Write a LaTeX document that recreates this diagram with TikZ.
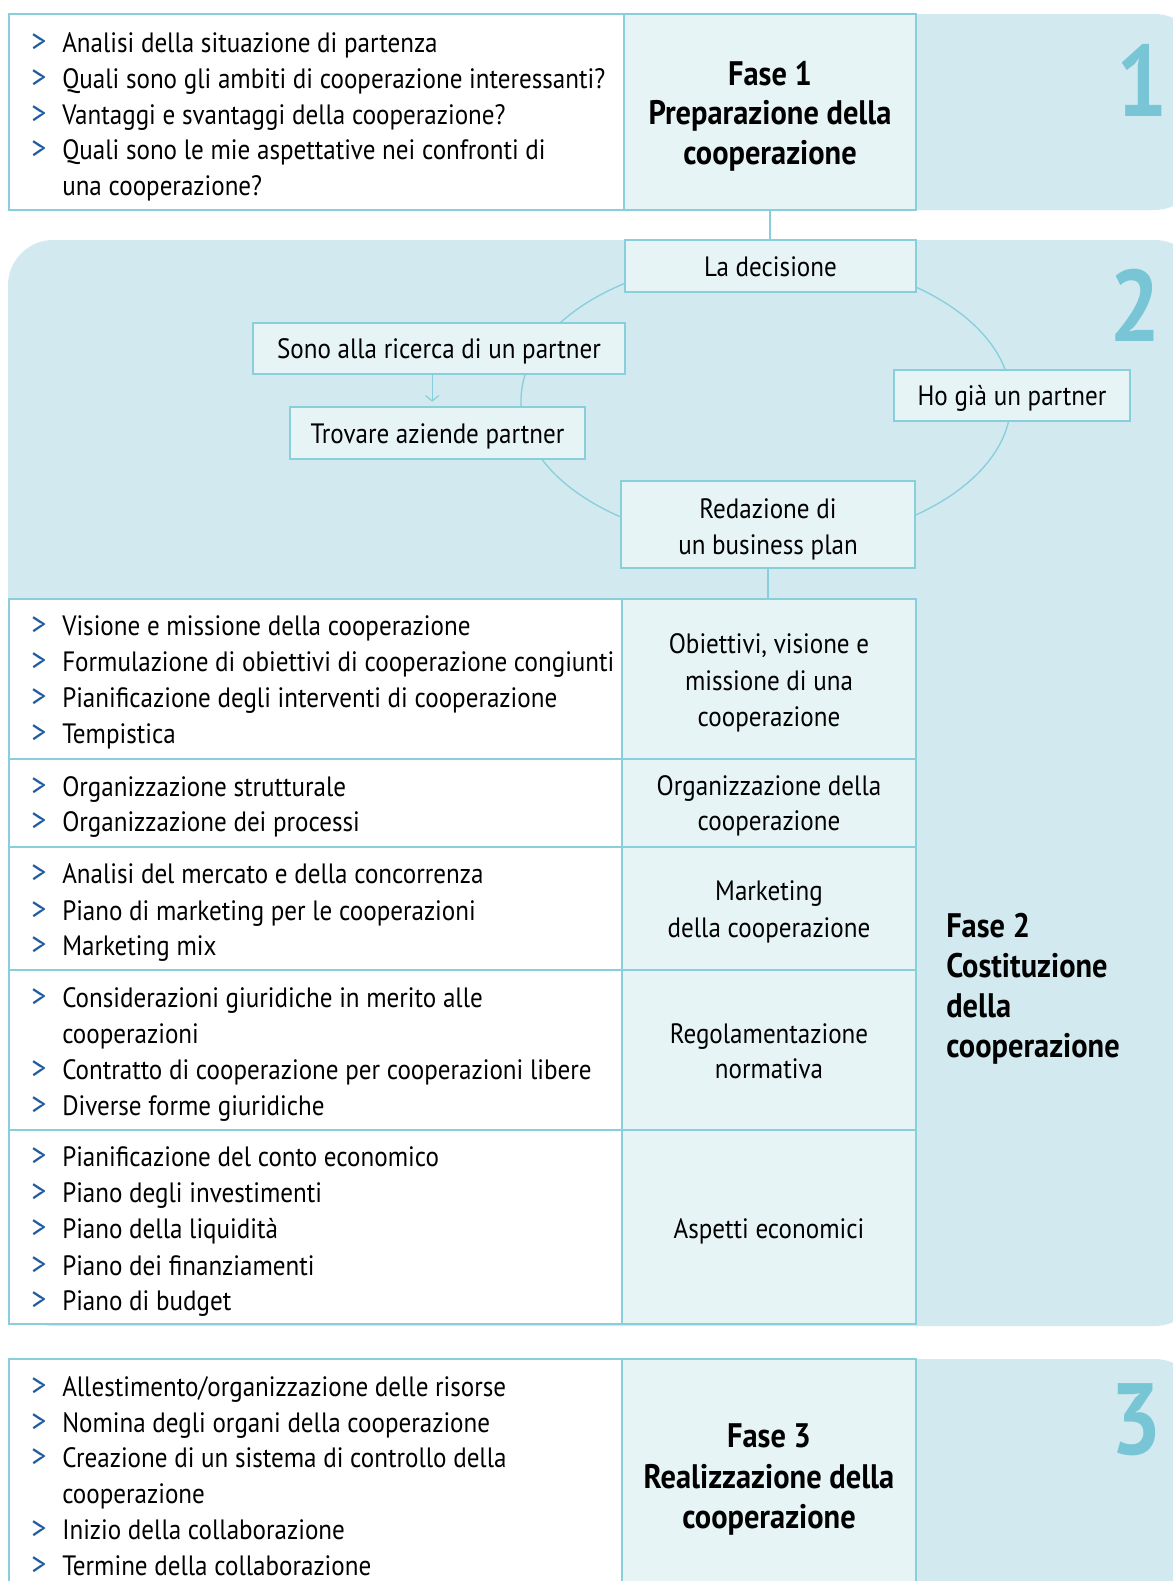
\documentclass[tikz,border=0pt]{standalone}
\usepackage{fontspec}
\setmainfont{PT Sans}[FakeStretch=0.895]
\usetikzlibrary{arrows.meta}
\definecolor{bandC}{HTML}{D2EAEF}
\definecolor{cellC}{HTML}{E7F4F6}
\definecolor{lineC}{HTML}{88CEDB}
\definecolor{numC}{HTML}{78C6D5}
\definecolor{bulC}{HTML}{1F5BA3}
\newcounter{lnc}
\newcommand{\bit}[2]{\stepcounter{lnc}\node[bul] (bu\arabic{lnc}) at (31,#1) {>};\node[txt] (bt\arabic{lnc}) at (62,#1) {#2};}
\newcommand{\cont}[2]{\stepcounter{lnc}\node[txt] (bt\arabic{lnc}) at (62,#1) {#2};}
\newcommand{\ctr}[3]{\stepcounter{lnc}\node[ctxt] (ct\arabic{lnc}) at (#1,#2) {#3};}
\newcommand{\cbf}[3]{\stepcounter{lnc}\node[btxt] (cb\arabic{lnc}) at (#1,#2) {#3};}
\newcommand{\boxn}[6]{\node[#6, anchor=north west, minimum width={(#4-#2)*0.75pt}, minimum height={(#5-#3)*0.75pt}] (#1) at (#2,#3) {};}
\begin{document}
\begin{tikzpicture}[x=0.75pt,y=-0.75pt,
  txt/.style={anchor=base west, inner sep=0, font=\fontsize{21}{27}\selectfont},
  bul/.style={anchor=base west, inner sep=0, text=bulC, font=\fontsize{25}{27}\selectfont},
  ctxt/.style={anchor=base, inner sep=0, font=\fontsize{21}{27}\selectfont},
  btxt/.style={anchor=base, inner sep=0, font=\bfseries\fontsize{25.5}{27}\selectfont},
  ltxt/.style={anchor=base west, inner sep=0, font=\bfseries\fontsize{25.5}{27}\selectfont},
  num/.style={anchor=base, inner sep=0, text=numC, font=\bfseries\fontsize{76}{76}\selectfont},
  cellW/.style={draw=lineC, fill=white, line width=1.5pt, inner sep=0, outer sep=0},
  cellB/.style={draw=lineC, fill=cellC, line width=1.5pt, inner sep=0, outer sep=0},
  conn/.style={draw=lineC, line width=1.3pt},
  arr/.style={draw=lineC, line width=0.9pt, -{Straight Barb[length=4pt,width=10pt]}}
]
\useasboundingbox (0,0) rectangle (1173,1581);
\clip (0,0) rectangle (1173,1581);
\fill[white] (0,0) rectangle (1173,1581);
% bands
\fill[bandC, rounded corners=34pt] (400,14) rectangle (1200,210);
\fill[bandC, rounded corners=34pt] (8,240) rectangle (1200,1326);
\fill[bandC, rounded corners=34pt] (8,1359) rectangle (1200,1750);
% phase numbers
\node[num] (n1) at (1142,116) {1};
\node[num] (n2) at (1135,341) {2};
\node[num] (n3) at (1136,1454) {3};
% phase 1 boxes
\boxn{p1l}{9}{14}{624}{210}{cellW}
\boxn{p1c}{624}{14}{916}{210}{cellB}
% decision cycle
\draw[lineC, line width=1pt] (766,401) ellipse [x radius=245, y radius=144];
\boxn{dec}{625}{240}{916}{292}{cellB}
\boxn{sono}{253}{323}{625}{374}{cellB}
\boxn{trov}{290}{407}{585}{459}{cellB}
\boxn{hogia}{894}{370}{1130}{421}{cellB}
\boxn{red}{621}{481}{915}{568}{cellB}
% phase 2 table
\boxn{r1l}{9}{599}{622}{759}{cellW}
\boxn{r1c}{622}{599}{916}{759}{cellB}
\boxn{r2l}{9}{759}{622}{847}{cellW}
\boxn{r2c}{622}{759}{916}{847}{cellB}
\boxn{r3l}{9}{847}{622}{970}{cellW}
\boxn{r3c}{622}{847}{916}{970}{cellB}
\boxn{r4l}{9}{970}{622}{1130}{cellW}
\boxn{r4c}{622}{970}{916}{1130}{cellB}
\boxn{r5l}{9}{1130}{622}{1324}{cellW}
\boxn{r5c}{622}{1130}{916}{1324}{cellB}
% phase 3
\boxn{p3l}{9}{1359}{622}{1650}{cellW}
\boxn{p3c}{622}{1359}{916}{1650}{cellB}
% connectors
\draw[conn] (p1c.south) -- (p1c.south |- dec.north);
\draw[conn] (red.south) -- (red.south |- r1c.north);
\draw[arr] ([xshift=-4pt]trov.north |- sono.south) -- ([xshift=-4pt,yshift=4pt]trov.north);
% phase 1 text
\bit{52}{Analisi della situazione di partenza}
\bit{88}{Quali sono gli ambiti di cooperazione interessanti?}
\bit{124}{Vantaggi e svantaggi della cooperazione?}
\bit{159}{Quali sono le mie aspettative nei confronti di}
\cont{195}{una cooperazione?}
\cbf{770}{85}{Fase 1}
\cbf{770}{124.5}{Preparazione della}
\cbf{770}{164}{cooperazione}
% cycle text
\ctr{770.5}{276}{La decisione}
\ctr{439}{358}{Sono alla ricerca di un partner}
\ctr{437.5}{443}{Trovare aziende partner}
\ctr{1012}{405}{Ho già un partner}
\ctr{768}{518}{Redazione di}
\ctr{768}{554}{un business plan}
% row 1
\bit{635}{Visione e missione della cooperazione}
\bit{671}{Formulazione di obiettivi di cooperazione congiunti}
\bit{707}{Pianificazione degli interventi di cooperazione}
\bit{743}{Tempistica}
\ctr{769}{653}{Obiettivi, visione e}
\ctr{769}{690}{missione di una}
\ctr{769}{726}{cooperazione}
% row 2
\bit{796}{Organizzazione strutturale}
\bit{831}{Organizzazione dei processi}
\ctr{769}{795}{Organizzazione della}
\ctr{769}{830}{cooperazione}
% row 3
\bit{883}{Analisi del mercato e della concorrenza}
\bit{920}{Piano di marketing per le cooperazioni}
\bit{955}{Marketing mix}
\ctr{769}{900}{Marketing}
\ctr{769}{937}{della cooperazione}
% row 4
\bit{1007.5}{Considerazioni giuridiche in merito alle}
\cont{1043}{cooperazioni}
\bit{1079}{Contratto di cooperazione per cooperazioni libere}
\bit{1115}{Diverse forme giuridiche}
\ctr{769}{1043}{Regolamentazione}
\ctr{769}{1078}{normativa}
% row 5
\bit{1166}{Pianificazione del conto economico}
\bit{1202}{Piano degli investimenti}
\bit{1238.5}{Piano della liquidità}
\bit{1275}{Piano dei finanziamenti}
\bit{1310}{Piano di budget}
\ctr{769}{1238}{Aspetti economici}
% phase 2 label
\node[ltxt] (f2a) at (946,937) {Fase 2};
\node[ltxt] (f2b) at (946,977) {Costituzione};
\node[ltxt] (f2c) at (946,1017) {della};
\node[ltxt] (f2d) at (946,1057) {cooperazione};
% phase 3 text
\bit{1396}{Allestimento/organizzazione delle risorse}
\bit{1432}{Nomina degli organi della cooperazione}
\bit{1467}{Creazione di un sistema di controllo della}
\cont{1503}{cooperazione}
\bit{1539}{Inizio della collaborazione}
\bit{1575}{Termine della collaborazione}
\cbf{769}{1447}{Fase 3}
\cbf{769}{1488}{Realizzazione della}
\cbf{769}{1528}{cooperazione}
\end{tikzpicture}
\end{document}
